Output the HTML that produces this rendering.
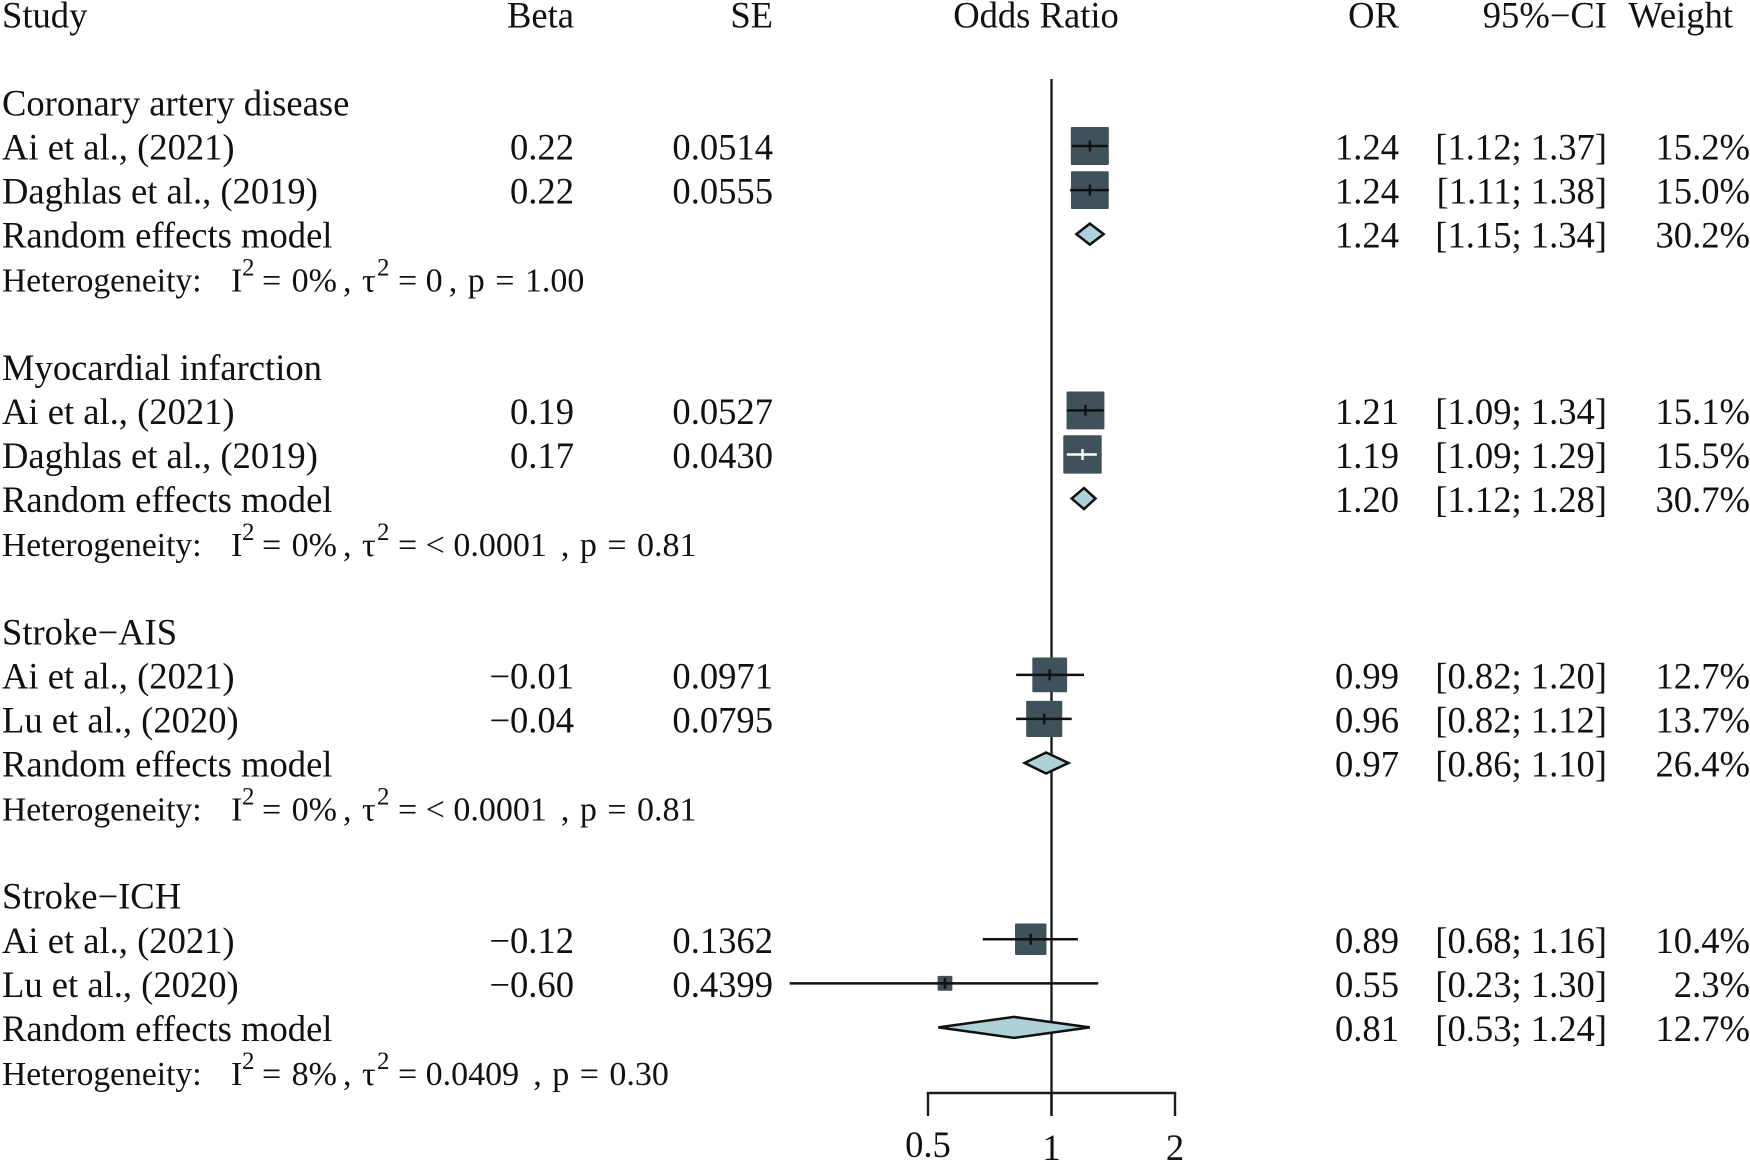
<!DOCTYPE html>
<html lang="en">
<head>
<meta charset="utf-8">
<title>Forest plot</title>
<style>
html,body{margin:0;padding:0;background:#fff;width:1750px;height:1163px;overflow:hidden}
svg{display:block}
text{font-family:"Liberation Serif","Times New Roman",serif;font-size:36.6px;fill:#111}
</style>
</head>
<body>
<svg id="chart" xmlns="http://www.w3.org/2000/svg" width="1750" height="1163" viewBox="0 0 1750 1163">
<rect x="0" y="0" width="1750" height="1163" fill="#ffffff"/>
<g>
<text x="2" y="27.5">Study</text>
<text x="574" y="27.5" text-anchor="end">Beta</text>
<text x="773" y="27.5" text-anchor="end">SE</text>
<text x="1036" y="27.5" text-anchor="middle">Odds Ratio</text>
<text x="1399" y="27.5" text-anchor="end">OR</text>
<text x="1607" y="27.5" text-anchor="end">95%−CI</text>
<text x="1733" y="27.5" text-anchor="end">Weight</text>
</g>
</svg>
<script>
const groups = ['Coronary artery disease', 'Myocardial infarction', 'Stroke\u2212AIS', 'Stroke\u2212ICH'];
const studies = ['Ai et al., (2021)', 'Daghlas et al., (2019)', 'Ai et al., (2021)', 'Daghlas et al., (2019)', 'Ai et al., (2021)', 'Lu et al., (2020)', 'Ai et al., (2021)', 'Lu et al., (2020)'];
const betas = [0.22, 0.22, 0.19, 0.17, -0.01, -0.04, -0.12, -0.60];
const standardErrors = [0.0514, 0.0555, 0.0527, 0.0430, 0.0971, 0.0795, 0.1362, 0.4399];
const oddsRatios = [1.24, 1.24, 1.21, 1.19, 0.99, 0.96, 0.89, 0.55];
const ciLower = [1.12, 1.11, 1.09, 1.09, 0.82, 0.82, 0.68, 0.23];
const ciUpper = [1.37, 1.38, 1.34, 1.29, 1.20, 1.12, 1.16, 1.30];
const weights = [15.2, 15.0, 15.1, 15.5, 12.7, 13.7, 10.4, 2.3];
const pooledOr = [1.24, 1.20, 0.97, 0.81];
const pooledLower = [1.15, 1.12, 0.86, 0.53];
const pooledUpper = [1.34, 1.28, 1.10, 1.24];
const pooledWeights = [30.2, 30.7, 26.4, 12.7];
const hetI2 = ['0%', '0%', '0%', '8%'];
const hetTau2 = ['0', '< 0.0001', '< 0.0001', '0.0409'];
const hetP = ['1.00', '0.81', '0.81', '0.30'];
const axisTicks = [0.5, 1, 2];
const axisTickLabels = ['0.5', '1', '2'];

const NS = 'http://www.w3.org/2000/svg';
const svg = document.getElementById('chart');
const xScale = v => 1051.5 + 123.5 * Math.log2(v);
const rowY = i => 146 + 44.07 * i;
const base = i => rowY(i) + 13.5;
const fmtSigned = (v, d) => v.toFixed(d).replace('-', '\u2212');

function mk(tag, attrs, parent, content) {
  const n = document.createElementNS(NS, tag);
  for (const k in attrs) n.setAttribute(k, attrs[k]);
  if (content !== undefined) n.textContent = content;
  (parent || svg).appendChild(n);
  return n;
}
function txt(x, y, s, anchor, size, parent, extraStyle) {
  const a = {x: x, y: y};
  if (anchor) a['text-anchor'] = anchor;
  if (size) a.style = 'font-size:' + size + 'px;' + (extraStyle || '');
  return mk('text', a, parent, s);
}

// Reference line at OR = 1
const refLine = mk('line', {x1: xScale(1), x2: xScale(1), y1: 79, y2: 1116, stroke: '#1c1c1c', 'stroke-width': 2.4});



// Axis
const axisGroup = mk('g', {});


const axisLine = mk('line', {x1: xScale(axisTicks[0]), x2: xScale(axisTicks[axisTicks.length - 1]), y1: 1093, y2: 1093, stroke: '#1c1c1c', 'stroke-width': 2.4, 'stroke-linecap': 'square'}, axisGroup);


axisTicks.forEach((t, i) => {
  const tick = mk('line', {x1: xScale(t), x2: xScale(t), y1: 1093, y2: 1116, stroke: '#1c1c1c', 'stroke-width': 2.4}, axisGroup);
  
  
  const label = txt(xScale(t), i === 0 ? 1157 : 1160, axisTickLabels[i], 'middle', null, axisGroup);
  
  
});

groups.forEach((g, gi) => {
  const start = gi * 6;
  const grp = mk('g', {});
  
  

  const title = txt(2, base(start - 1), g, null, null, grp);
  
  

  [0, 1].forEach(k => {
    const s = gi * 2 + k;
    const row = start + k;
    const y = rowY(row);
    const by = base(row);

    const name = txt(2, by, studies[s], null, null, grp);
    
    
    const beta = txt(574, by, fmtSigned(betas[s], 2), 'end', null, grp);
    
    
    const se = txt(773, by, standardErrors[s].toFixed(4), 'end', null, grp);
    
    

    const size = 9.75 * Math.sqrt(weights[s]);
    const cx = xScale(oddsRatios[s]);
    const x1 = xScale(ciLower[s]);
    const x2 = xScale(ciUpper[s]);
    const inside = x1 > cx - size / 2 + 2 && x2 < cx + size / 2 - 2;
    const lineColor = inside ? '#ffffff' : '#111111';

    const square = mk('rect', {x: cx - size / 2, y: y - size / 2, width: size, height: size, rx: 1, fill: '#3f525b'}, grp);
    
    
    const ci = mk('line', {x1: x1, x2: x2, y1: y, y2: y, stroke: lineColor, 'stroke-width': 2.5}, grp);
    
    
    const mid = mk('line', {x1: cx, x2: cx, y1: y - 5.5, y2: y + 5.5, stroke: lineColor, 'stroke-width': 2.4}, grp);
    
    

    const or = txt(1399, by, oddsRatios[s].toFixed(2), 'end', null, grp);
    
    
    const ciText = txt(1607, by, '[' + ciLower[s].toFixed(2) + '; ' + ciUpper[s].toFixed(2) + ']', 'end', null, grp);
    
    
    const wt = txt(1750, by, weights[s].toFixed(1) + '%', 'end', null, grp);
    
    
  });

  // Pooled row
  const pr = start + 2;
  const py = rowY(pr);
  const pby = base(pr);
  const pooledLabel = txt(2, pby, 'Random effects model', null, null, grp);
  
  
  const pts = [[xScale(pooledLower[gi]), py], [xScale(pooledOr[gi]), py - 10.5], [xScale(pooledUpper[gi]), py], [xScale(pooledOr[gi]), py + 10.5]];
  const diamond = mk('polygon', {points: pts.map(p => p.join(',')).join(' '), fill: '#aed0d8', stroke: '#111111', 'stroke-width': 2.5, 'stroke-linejoin': 'miter'}, grp);
  
  
  const pOr = txt(1399, pby, pooledOr[gi].toFixed(2), 'end', null, grp);
  
  
  const pCi = txt(1607, pby, '[' + pooledLower[gi].toFixed(2) + '; ' + pooledUpper[gi].toFixed(2) + ']', 'end', null, grp);
  
  
  const pW = txt(1750, pby, pooledWeights[gi].toFixed(1) + '%', 'end', null, grp);
  
  

  // Heterogeneity row
  const hb = base(start + 3);
  const het = mk('g', {}, grp);
  
  
  const labelSize = 33.6;
  const hs = 34;
  const sup = 25;
  const sp = 'word-spacing:2px;';
  const h1 = txt(2, hb, 'Heterogeneity:', null, labelSize, het);
  
  
  const h2 = txt(231, hb, 'I', null, hs, het);
  
  
  const h3 = txt(242, hb - 16, '2', null, sup, het);
  
  
  const h4 = txt(262, hb, '= ' + hetI2[gi], null, hs, het, sp);
  
  
  const hc = txt(343, hb, ',', null, hs, het);
  
  
  const h5 = txt(362, hb, '\u03C4', null, hs, het);
  
  
  const h6 = txt(377, hb - 16, '2', null, sup, het);
  
  
  const h7 = txt(398, hb, '= ' + hetTau2[gi], null, hs, het);
  
  
  const tauEnd = 398 + h7.getComputedTextLength();
  const commaX = tauEnd + (hetTau2[gi] === '0' ? 6 : 14);
  const h8 = txt(commaX, hb, ',', null, hs, het);
  
  
  const h9 = txt(commaX + 19, hb, 'p = ' + hetP[gi], null, hs, het, sp);
  
  
});
</script>
</body>
</html>
